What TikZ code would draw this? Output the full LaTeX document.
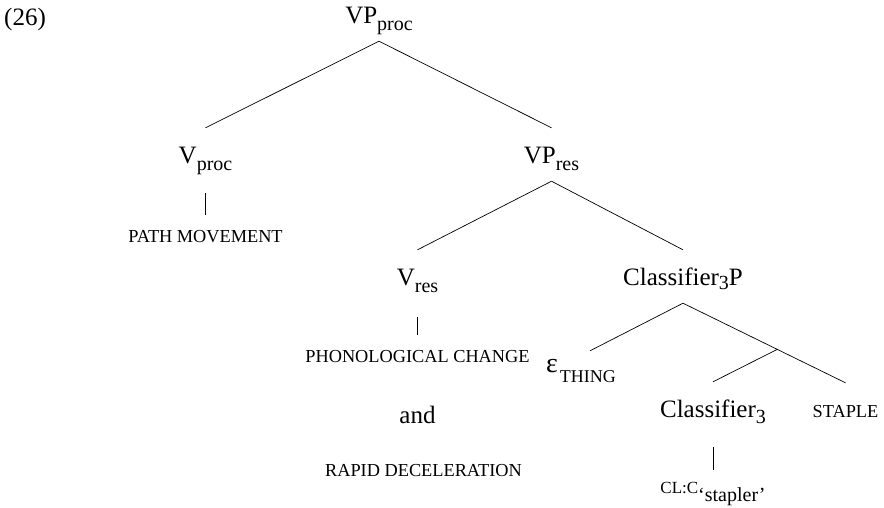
\documentclass[tikz,border=0pt]{standalone}
\usepackage{fontspec}
\setmainfont{Liberation Serif}
\usetikzlibrary{positioning,calc}
\newcommand{\subtxt}[2][7pt]{\raisebox{-#1}{\fontsize{20}{20}\selectfont #2}}

\begin{document}
\begin{tikzpicture}[x=1pt,y=-1pt]
  \tikzset{
    cat/.style={inner sep=0pt, text height=35pt, text depth=18pt, font=\fontsize{25}{30}\selectfont},
    feat/.style={inner sep=0pt, text height=27pt, text depth=6pt, font=\fontsize{18.3}{22}\selectfont},
    line/.style={draw, line width=0.7pt},
    tick/.style={draw, line width=0.7pt, shorten <=12pt},
  }
  \useasboundingbox (0,0) rectangle (884,507);
  \node [anchor=base west, inner sep=0pt, font=\fontsize{25}{30}\selectfont] (exnum) at (4,25) {(26)};

  \node [cat, anchor=base] (vpproc) at (379,23) {VP\subtxt{proc}};
  \node [cat, anchor=base] (vproc) at (205.5,163) {V\subtxt{proc}};
  \node [feat, below=34pt of vproc] (path) {PATH MOVEMENT};
  \node [cat, anchor=base] (vpres) at (551.5,163) {VP\subtxt{res}};
  \node [cat, anchor=base] (vres) at (417.5,285) {V\subtxt{res}};
  \node [feat, below=32pt of vres] (phon) {PHONOLOGICAL CHANGE};
  \node [cat, below=20pt of phon] (and) {and};
  \node [feat, below=7pt of and, xshift=6pt] (rapid) {RAPID DECELERATION};
  \node [cat, anchor=base] (clfp) at (683,285) {Classifier\subtxt[4pt]{3}P};
  \node [cat, anchor=base, text height=21pt] (eps) at (581,372) {{\fontsize{28}{30}\selectfont ε}\hspace{2pt}\raisebox{-10pt}{\fontsize{18}{18}\selectfont THING}};
  \node [cat, anchor=base] (clf) at (713,417) {Classifier\subtxt[6pt]{3}};
  \node [feat, anchor=base, text height=34pt] (staple) at (845.5,417) {STAPLE};
  \node [feat, text height=23pt, below=35pt of clf] (clc) {\fontsize{17}{20}\selectfont CL:C\subtxt[8pt]{‘stapler’}};
  \coordinate (jn) at ($(clfp.south)!0.58!(staple.north)$);

  \path [line] (vpproc.south) -- (vproc.north);
  \path [line] (vpproc.south) -- (vpres.north);
  \path [tick] (vproc.south) -- (path.north);
  \path [line] (vpres.south) -- (vres.north);
  \path [line] (vpres.south) -- (clfp.north);
  \path [tick, shorten <=14pt] (vres.south) -- (phon.north);
  \path [line] (clfp.south) -- ([xshift=9pt]eps.north);
  \path [line] (clfp.south) -- (staple.north);
  \path [line] (jn) -- (clf.north);
  \path [tick] (clf.south) -- (clc.north);
\end{tikzpicture}
\end{document}
